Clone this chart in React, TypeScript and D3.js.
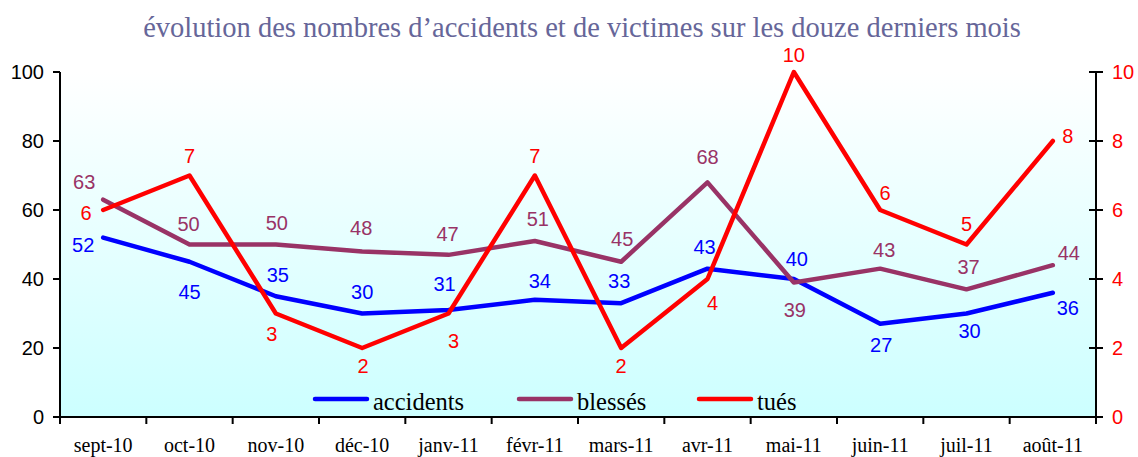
import * as d3 from 'd3';

const months = ['sept-10', 'oct-10', 'nov-10', 'déc-10', 'janv-11', 'févr-11', 'mars-11', 'avr-11', 'mai-11', 'juin-11', 'juil-11', 'août-11'];
const accidents = [52, 45, 35, 30, 31, 34, 33, 43, 40, 27, 30, 36];
const blesses = [63, 50, 50, 48, 47, 51, 45, 68, 39, 43, 37, 44];
const tues = [6, 7, 3, 2, 3, 7, 2, 4, 10, 6, 5, 8];
const leftTicks = [0, 20, 40, 60, 80, 100];
const rightTicks = [0, 2, 4, 6, 8, 10];

// label offsets (dx, dy) from each point, as placed in the original
const accOffsets = [[-20, 7], [0, 30], [2, -21], [0, -22], [-4, -26], [5, -19], [-2, -22], [-3, -22], [3, -20], [1, 21], [3, 17], [15, 15]];
const blsOffsets = [[-19, -18], [-1, -21], [1, -22], [-1, -23], [-1, -21], [3, -22], [1, -23], [0, -25], [1, 28], [4, -19], [2, -22], [16, -12]];
const tueOffsets = [[-17, 3], [0, -20], [-4, 20], [1, 18], [5, 27], [0, -20], [0, 18], [5, 24], [0, -17], [5, -17], [0, -21], [15, -5]];

const W = 1138;
const H = 457;
const plot = { left: 60, right: 1096, top: 72, bottom: 417 };

export default function App() {
  const x = d3.scaleBand().domain(months).range([plot.left, plot.right]);
  const yL = d3.scaleLinear().domain([0, 100]).range([plot.bottom, plot.top]);
  const yR = d3.scaleLinear().domain([0, 10]).range([plot.bottom, plot.top]);
  const cx = (m: string) => (x(m) as number) + x.bandwidth() / 2;

  const series = [
    { name: 'accidents', values: accidents, color: '#0000ff', y: yL, offsets: accOffsets },
    { name: 'blessés', values: blesses, color: '#993366', y: yL, offsets: blsOffsets },
    { name: 'tués', values: tues, color: '#ff0000', y: yR, offsets: tueOffsets },
  ];

  const legend = [
    { name: 'accidents', color: '#0000ff', x: 315 },
    { name: 'blessés', color: '#993366', x: 519 },
    { name: 'tués', color: '#ff0000', x: 699 },
  ];

  const sans = 'Liberation Sans, Arial, sans-serif';
  const serif = 'Liberation Serif, Times New Roman, serif';

  return (
    <svg width={W} height={H} style={{ position: 'absolute', left: 0, top: 0, display: 'block' }}>
      <defs>
        <linearGradient id="bg" x1="0" y1="0" x2="0" y2="1">
          <stop offset="0" stopColor="#ffffff" />
          <stop offset="1" stopColor="#ccffff" />
        </linearGradient>
      </defs>
      <rect width={W} height={H} fill="#ffffff" />
      <rect x={plot.left} y={plot.top} width={plot.right - plot.left} height={plot.bottom - plot.top} fill="url(#bg)" />

      <text x={582} y={37} textAnchor="middle" fontFamily={serif} fontSize={28.5} fill="#666699">
        évolution des nombres d’accidents et de victimes sur les douze derniers mois
      </text>

      {/* left axis */}
      <line x1={plot.left} x2={plot.left} y1={plot.top} y2={plot.bottom} stroke="#000" strokeWidth={2} />
      {leftTicks.map(t => (
        <g key={'l' + t}>
          <line x1={plot.left - 7} x2={plot.left} y1={yL(t)} y2={yL(t)} stroke="#000" strokeWidth={2} />
          <text x={plot.left - 16} y={yL(t)} dy="0.35em" textAnchor="end" fontFamily={sans} fontSize={20} fill="#000">{t}</text>
        </g>
      ))}

      {/* right axis */}
      <line x1={plot.right} x2={plot.right} y1={plot.top} y2={plot.bottom} stroke="#000" strokeWidth={2} />
      {rightTicks.map(t => (
        <g key={'r' + t}>
          <line x1={plot.right - 7} x2={plot.right + 7} y1={yR(t)} y2={yR(t)} stroke="#000" strokeWidth={2} />
          <text x={plot.right + 16} y={yR(t)} dy="0.35em" textAnchor="start" fontFamily={sans} fontSize={20} fill="#ff0000">{t}</text>
        </g>
      ))}

      {/* bottom axis */}
      <line x1={plot.left} x2={plot.right} y1={plot.bottom} y2={plot.bottom} stroke="#000" strokeWidth={2} />
      {months.map((m, i) => (
        <g key={m}>
          <line x1={x(m) as number} x2={x(m) as number} y1={plot.bottom} y2={plot.bottom + 7} stroke="#000" strokeWidth={2} />
          {i === months.length - 1 && (
            <line x1={plot.right} x2={plot.right} y1={plot.bottom} y2={plot.bottom + 7} stroke="#000" strokeWidth={2} />
          )}
          <text x={cx(m)} y={452} textAnchor="middle" fontFamily={serif} fontSize={20} fill="#000">{m}</text>
        </g>
      ))}

      {/* lines */}
      {series.map(s => {
        const line = d3.line<number>().x((_, i) => cx(months[i])).y(v => s.y(v));
        return (
          <path key={s.name} d={line(s.values) || ''} fill="none" stroke={s.color} strokeWidth={4.5} strokeLinejoin="round" strokeLinecap="round" />
        );
      })}

      {/* data labels */}
      {series.map(s => s.values.map((v, i) => (
        <text key={s.name + i} x={cx(months[i]) + s.offsets[i][0]} y={s.y(v) + s.offsets[i][1]} dy="0.35em" textAnchor="middle" fontFamily={sans} fontSize={20} fill={s.color}>
          {v}
        </text>
      )))}

      {/* legend */}
      {legend.map(l => (
        <g key={l.name}>
          <line x1={l.x} x2={l.x + 52} y1={399} y2={399} stroke={l.color} strokeWidth={4.5} strokeLinecap="round" />
          <text x={l.x + 58} y={410} fontFamily={serif} fontSize={24.5} fill="#000">{l.name}</text>
        </g>
      ))}
    </svg>
  );
}
